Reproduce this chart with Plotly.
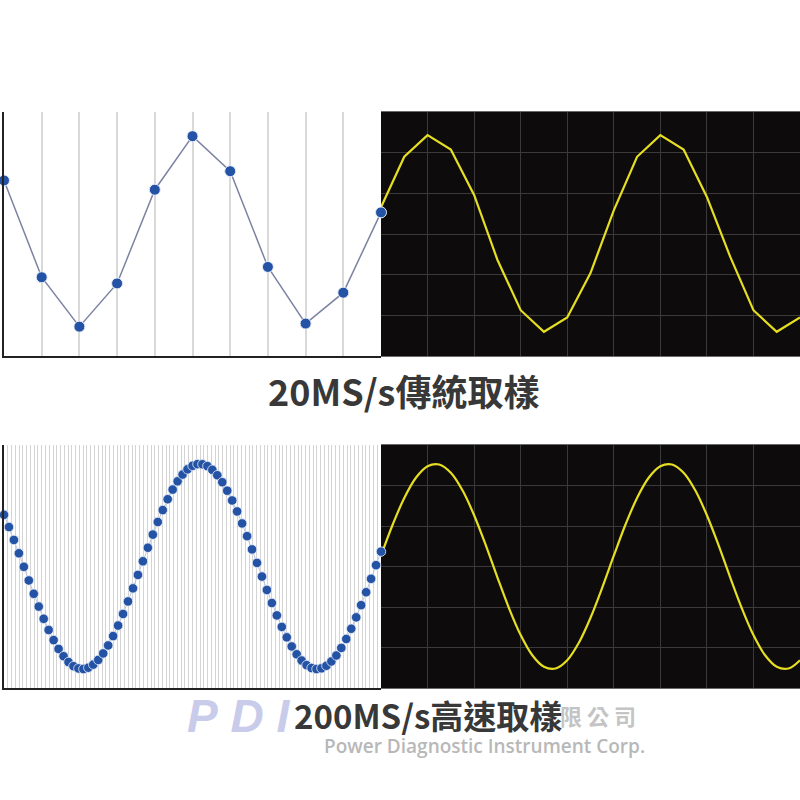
import plotly.graph_objects as go

# ---------------- data ----------------
# 20MS/s: sampled points (left, top panel)
low_rate_values = [0.52, -0.42, -0.90, -0.48, 0.43, 0.95, 0.61, -0.32, -0.87, -0.57, 0.21]
# 20MS/s: scope trace reconstructed from samples (right, top panel)
low_rate_trace = [0.26, 0.75, 0.96, 0.82, 0.38, -0.25, -0.74, -0.95, -0.81, -0.38,
                  0.23, 0.75, 0.96, 0.82, 0.36, -0.22, -0.74, -0.95, -0.81]
# 200MS/s: sampled points (left, bottom panel)
high_rate_values = [0.504, 0.385, 0.259, 0.129, -0.003, -0.136, -0.266, -0.391, -0.510, -0.619,
                    -0.718, -0.804, -0.875, -0.932, -0.972, -0.994, -1.000, -0.987, -0.957, -0.911,
                    -0.848, -0.770, -0.679, -0.576, -0.463, -0.341, -0.213, -0.082, 0.051, 0.183,
                    0.311, 0.434, 0.550, 0.656, 0.750, 0.831, 0.897, 0.948, 0.982, 0.998,
                    0.997, 0.979, 0.943, 0.890, 0.822, 0.739, 0.644, 0.537, 0.420, 0.296,
                    0.167, 0.035, -0.098, -0.229, -0.356, -0.477, -0.589, -0.691, -0.780, -0.856,
                    -0.917, -0.962, -0.990, -1.000, -0.993, -0.968, -0.926, -0.868, -0.794, -0.707,
                    -0.607, -0.496, -0.377, -0.251, -0.120, 0.013, 0.145]
# 200MS/s: scope trace (right, bottom panel)
high_rate_trace = [0.105, 0.407, 0.669, 0.866, 0.978, 0.995, 0.914, 0.743, 0.500, 0.208,
                   -0.105, -0.407, -0.669, -0.866, -0.978, -0.995, -0.914, -0.743, -0.500, -0.208,
                   0.105, 0.407, 0.669, 0.866, 0.978, 0.995, 0.914, 0.743, 0.500, 0.208,
                   -0.105, -0.407, -0.669, -0.866, -0.978, -0.995, -0.914]

title_low = "20MS/s傳統取樣"
title_high = "200MS/s高速取樣"
wm_logo = "P\u00a0D\u00a0I"
wm_cn = "限 公 司"
wm_en = "Power Diagnostic Instrument Corp."

# ---------------- style ----------------
BLUE = "#2453a6"
YELLOW = "#e6de22"
SCOPE_BG = "#0d0b0b"
SCOPE_GRID = "#3a3a3a"
YR = [-1.185, 1.185]

fig = go.Figure()

# Right panels first (drawn underneath left subplot layers)
fig.add_trace(go.Scatter(x=list(range(len(low_rate_trace))), y=low_rate_trace,
                         mode="lines", line=dict(color=YELLOW, width=2.2),
                         xaxis="x", yaxis="y", hoverinfo="skip"))
fig.add_trace(go.Scatter(x=list(range(len(high_rate_trace))), y=high_rate_trace,
                         mode="lines", line=dict(color=YELLOW, width=2.2, shape="spline"),
                         xaxis="x3", yaxis="y3", hoverinfo="skip"))

# Left panels
fig.add_trace(go.Scatter(x=list(range(len(low_rate_values))), y=low_rate_values,
                         mode="lines+markers", cliponaxis=False,
                         line=dict(color="#7c83a2", width=1.5),
                         marker=dict(color=BLUE, size=11, line=dict(color="#e8eef8", width=1)),
                         xaxis="x2", yaxis="y2", hoverinfo="skip"))
fig.add_trace(go.Scatter(x=list(range(len(high_rate_values))), y=high_rate_values,
                         mode="lines+markers", cliponaxis=False,
                         line=dict(color="#b9c3da", width=1),
                         marker=dict(color=BLUE, size=9.5, line=dict(color="#e8eef8", width=0.8)),
                         xaxis="x4", yaxis="y4", hoverinfo="skip"))

top_dom = [1 - 356 / 800, 1 - 112 / 800]
bot_dom = [1 - 688 / 800, 1 - 445 / 800]
left_dom = [4 / 800, 381 / 800]
right_dom = [381 / 800, 1.0]

def scope_x(dom, n, dt, anchor):
    return dict(domain=dom, range=[0, n], showgrid=True, gridcolor=SCOPE_GRID, gridwidth=1,
                dtick=dt, tick0=0, showticklabels=False, ticks="", zeroline=False,
                showline=True, linecolor="#6a6a6a", linewidth=1, mirror=True, anchor=anchor)

def scope_y(dom, anchor):
    return dict(domain=dom, range=YR, showgrid=True, gridcolor=SCOPE_GRID, gridwidth=1,
                dtick=(YR[1] - YR[0]) / 6, tick0=YR[0], showticklabels=False, ticks="",
                zeroline=False, showline=False, anchor=anchor)

def left_x(dom, n, dt, anchor, gw, gc):
    return dict(domain=dom, range=[0, n], showgrid=True, gridcolor=gc, gridwidth=gw,
                dtick=dt, tick0=0, showticklabels=False, ticks="", zeroline=False,
                showline=True, linecolor="#222222", linewidth=2, anchor=anchor)

def left_y(dom, anchor):
    return dict(domain=dom, range=YR, showgrid=False, showticklabels=False, ticks="",
                zeroline=False, showline=True, linecolor="#222222", linewidth=2, anchor=anchor)

n_low = len(low_rate_values) - 1
n_high = len(high_rate_values) - 1

fig.update_layout(
    width=800, height=800,
    margin=dict(l=0, r=0, t=0, b=0),
    paper_bgcolor="white", plot_bgcolor="rgba(0,0,0,0)",
    showlegend=False,
    xaxis=scope_x(right_dom, len(low_rate_trace) - 1, 2, "y"),
    yaxis=scope_y(top_dom, "x"),
    xaxis3=scope_x(right_dom, len(high_rate_trace) - 1, 4, "y3"),
    yaxis3=scope_y(bot_dom, "x3"),
    xaxis2=left_x(left_dom, n_low, 1, "y2", 1.5, "#d9d9d9"),
    yaxis2=left_y(top_dom, "x2"),
    xaxis4=left_x(left_dom, n_high, n_high / 100, "y4", 1.2, "#d4d4d4"),
    yaxis4=left_y(bot_dom, "x4"),
    shapes=[
        dict(type="rect", xref="paper", yref="paper", x0=right_dom[0], x1=1.0,
             y0=top_dom[0], y1=top_dom[1], fillcolor=SCOPE_BG, line=dict(width=0), layer="below"),
        dict(type="rect", xref="paper", yref="paper", x0=right_dom[0], x1=1.0,
             y0=bot_dom[0], y1=bot_dom[1], fillcolor=SCOPE_BG, line=dict(width=0), layer="below"),
    ],
)

CJK = "Noto Sans CJK TC"
def ann(text, x, y, font, xanchor="center"):
    return dict(text=text, x=x / 800, y=1 - y / 800, xref="paper", yref="paper",
                xanchor=xanchor, yanchor="middle", showarrow=False, font=font)

anns = [
    # watermark
    ann(f"<b>{wm_logo}</b>", 238, 716,
        dict(family="Liberation Sans", size=46, color="#c9cbea", style="italic")),
    ann(wm_cn, 638, 715, dict(family=CJK, size=22, color="#c4c4c4", weight="bold"), "right"),
    ann(wm_en, 485, 746, dict(family="Open Sans", size=19, color="#b8b8b8", weight=600)),
    # titles
    ann(title_low, 403, 390, dict(family=CJK, size=36, color="#383838", weight="bold")),
    ann(title_high, 428, 715, dict(family=CJK, size=33, color="#383838", weight="bold")),
]
fig.update_layout(annotations=anns)

fig.write_html("out.html", config={"displayModeBar": False},
               post_script="document.body.style.margin='0';document.body.style.overflow='hidden';")
